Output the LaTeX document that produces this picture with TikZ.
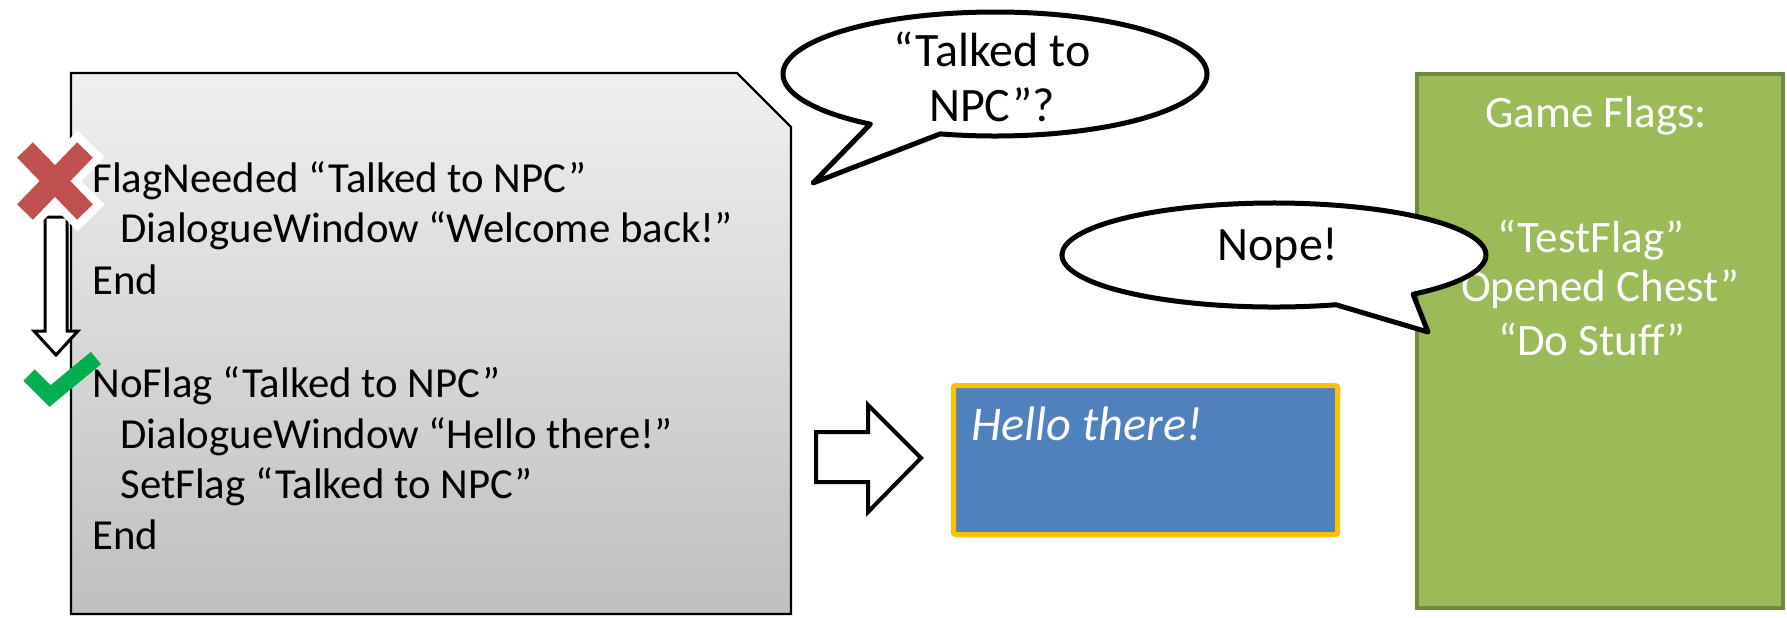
\documentclass[tikz,border=0pt]{standalone}
\usepackage{fontspec}
\setmainfont{Carlito}
\usetikzlibrary{positioning}

\definecolor{flaggreen}{HTML}{9BBB59}
\definecolor{flagborder}{HTML}{71893F}
\definecolor{winblue}{HTML}{4F81BD}
\definecolor{wingold}{HTML}{FFC000}
\definecolor{crossred}{HTML}{C0504D}
\definecolor{tickgreen}{HTML}{00B050}

\begin{document}
\begin{tikzpicture}[x=0.5pt, y=-0.5pt,
    codeline/.style={anchor=base west, inner sep=0pt, font=\fontsize{21.4}{25}\selectfont},
    flagline/.style={anchor=base, inner sep=0pt, text=white, font=\fontsize{22.5}{27}\selectfont},
    talk/.style={anchor=base, inner sep=0pt, font=\fontsize{24}{28}\selectfont},
    bubble/.style={draw=black, fill=white, line width=2.5pt, line join=round},
    blockarrow/.style={draw=black, fill=white, line join=miter}]
    \useasboundingbox (0,0) rectangle (1787,617);

    % script box
    \path[draw=black, line width=1.2pt, top color=gray!12, bottom color=gray!50]
        (71,73) -- (737,73) -- (791,127) -- (791,614) -- (71,614) -- cycle;
    \node[codeline] (need)   at (92,192)  {FlagNeeded “Talked to NPC”};
    \node[codeline] (back)   at (120,242) {DialogueWindow “Welcome back!”};
    \node[codeline] (end1)   at (92,294)  {End};
    \node[codeline] (noflag) at (92,397)  {NoFlag “Talked to NPC”};
    \node[codeline] (hello)  at (120,448) {DialogueWindow “Hello there!”};
    \node[codeline] (set)    at (120,498) {SetFlag “Talked to NPC”};
    \node[codeline] (end2)   at (92,549)  {End};

    % skip down, cross and tick
    \draw[blockarrow, line width=1.5pt]
        (45,217) -- (67,217) -- (67,331) -- (78,331) -- (56,355) -- (34,331) -- (45,331) -- cycle;
    \draw[white, line width=19pt] (19,144) -- (91,218) (91,144) -- (19,218);
    \draw[crossred, line width=11pt] (25,150) -- (85,212) (85,150) -- (25,212);
    \draw[tickgreen, line width=8pt, line join=miter] (29,375) -- (50,396) -- (96,358);

    % result
    \draw[blockarrow, line width=2pt]
        (816,432) -- (868,432) -- (868,405) -- (921,458) -- (868,512) -- (868,482) -- (816,482) -- cycle;
    \node[draw=wingold, fill=winblue, line width=2.5pt, rounded corners=1pt,
        minimum width=192pt, minimum height=74.5pt, anchor=north west] (window) at (951,383) {};
    \node[anchor=base west, inner sep=0pt, text=white, font=\itshape\fontsize{24.2}{29}\selectfont]
        (greet) at (971,440) {Hello there!};

    % flag list
    \node[draw=flagborder, fill=flaggreen, line width=2pt,
        minimum width=183pt, minimum height=267pt, anchor=north west] (flags) at (1415,72) {};
    \node[flagline] (title) at (1596,127) {Game Flags:};
    \node[flagline] (test)  at (1591,252) {“TestFlag”};
    \node[flagline] (chest) at (1591,301) {“Opened Chest”};
    \node[flagline] (stuff) at (1592,355) {“Do Stuff”};

    % speech bubbles
    \draw[bubble] (995,74) ++(126:212 and 62)
        arc[start angle=126, end angle=465, x radius=212, y radius=62] -- (813,183) -- cycle;
    \node[talk] (ask1) at (992,66)  {“Talked to};
    \node[talk] (ask2) at (992,121) {NPC”?};

    \draw[bubble] (1274,255) ++(73:212 and 52)
        arc[start angle=73, end angle=409, x radius=212, y radius=52] -- (1428,332) -- cycle;
    \node[talk] (nope) at (1278,260) {Nope!};
\end{tikzpicture}
\end{document}
